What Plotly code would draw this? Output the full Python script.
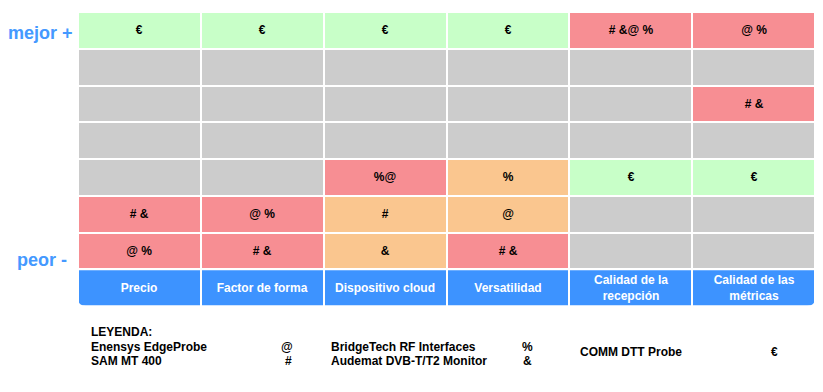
import plotly.graph_objects as go

# ---------------- data ----------------
criteria = ["Precio", "Factor de forma", "Dispositivo cloud", "Versatilidad",
            "Calidad de la<br>recepción", "Calidad de las<br>métricas"]

# rows from top ("mejor +") to bottom ("peor -")
cell_text = [
    ["€",    "€",    "€",   "€",   "# &@ %", "@ %"],
    ["",     "",     "",    "",    "",       ""],
    ["",     "",     "",    "",    "",       "# &"],
    ["",     "",     "",    "",    "",       ""],
    ["",     "",     "%@",  "%",   "€",      "€"],
    ["# &",  "@ %",  "#",   "@",   "",       ""],
    ["@ %",  "# &",  "&",   "# &", "",       ""],
]
# 0 = sin dato (gris), 1 = verde, 2 = rojo, 3 = naranja
cell_class = [
    [1, 1, 1, 1, 2, 2],
    [0, 0, 0, 0, 0, 0],
    [0, 0, 0, 0, 0, 2],
    [0, 0, 0, 0, 0, 0],
    [0, 0, 2, 3, 1, 1],
    [2, 2, 3, 3, 0, 0],
    [2, 2, 3, 2, 0, 0],
]

legend_names = ["Enensys EdgeProbe", "SAM MT 400", "BridgeTech RF Interfaces",
                "Audemat DVB-T/T2 Monitor", "COMM DTT Probe"]
legend_symbols = ["@", "#", "%", "&", "€"]

# ---------------- style ----------------
GREY = "#cccccc"
GREEN = "#c8ffc8"
RED = "#f78e93"
ORANGE = "#fac68f"
BLUE = "#3d93ff"
LABEL_BLUE = "#4499ff"

OFF = 8  # page body margin
W, H = 823 - OFF, 392 - OFF
L, R, T, B = 78 - OFF, 8, 12 - OFF, 86
PW, PH = W - L - R, H - T - B

ncols = len(criteria)
nrows = len(cell_class)

xs = list(range(ncols))
ys_rows = [nrows - i for i in range(nrows)]  # top row -> y=nrows

colorscale = [
    [0.0, GREY], [0.125, GREY],
    [0.125, GREEN], [0.375, GREEN],
    [0.375, RED], [0.625, RED],
    [0.625, ORANGE], [0.875, ORANGE],
    [0.875, BLUE], [1.0, BLUE],
]

fig = go.Figure()

fig.add_trace(go.Heatmap(
    x=xs, y=ys_rows, z=cell_class, text=cell_text,
    texttemplate="<b>%{text}</b>",
    textfont=dict(family="Liberation Sans, Arial", size=12, color="#000000"),
    colorscale=colorscale, zmin=0, zmax=4, showscale=False,
    xgap=2, ygap=2, hoverinfo="skip",
))

fig.add_trace(go.Heatmap(
    x=xs, y=[0], z=[[4] * ncols], text=[criteria],
    texttemplate="<b>%{text}</b>",
    textfont=dict(family="Liberation Sans, Arial", size=12, color="#ffffff"),
    colorscale=colorscale, zmin=0, zmax=4, showscale=False,
    xgap=2, ygap=2, hoverinfo="skip",
))

# rounded bottom corners (white masks)
rx = 8 / (PW / ncols)
ry = 8 / (PH / (nrows + 1))
x0, x1, y0 = -0.5, ncols - 0.5, -0.5
shapes = [
    dict(type="path", xref="x", yref="y", layer="above",
         path=f"M {x0-0.01},{y0+ry} L {x0},{y0+ry} Q {x0},{y0} {x0+rx},{y0} L {x0+rx},{y0-0.02} L {x0-0.01},{y0-0.02} Z",
         fillcolor="#ffffff", line=dict(width=0)),
    dict(type="path", xref="x", yref="y", layer="above",
         path=f"M {x1+0.01},{y0+ry} L {x1},{y0+ry} Q {x1},{y0} {x1-rx},{y0} L {x1-rx},{y0-0.02} L {x1+0.01},{y0-0.02} Z",
         fillcolor="#ffffff", line=dict(width=0)),
]


def px(xp):
    return (xp - OFF - L) / PW


def py(yp):
    return (H - B - (yp - OFF)) / PH


annotations = []
bold = dict(family="Liberation Sans, Arial", size=12, color="#000000")
annotations.append(dict(text="<b>mejor +</b>", x=px(40), y=py(33), xref="paper", yref="paper",
                        showarrow=False, xanchor="center", yanchor="middle",
                        font=dict(family="Liberation Sans, Arial", size=18, color=LABEL_BLUE)))
annotations.append(dict(text="<b>peor -</b>", x=px(42), y=py(260), xref="paper", yref="paper",
                        showarrow=False, xanchor="center", yanchor="middle",
                        font=dict(family="Liberation Sans, Arial", size=18, color=LABEL_BLUE)))

annotations.append(dict(text="<b>LEYENDA:</b>", x=px(89), y=py(332), xref="paper", yref="paper",
                        showarrow=False, xanchor="left", yanchor="middle", font=bold))

name_pos = [(89, 347), (89, 361), (329, 347), (329, 361), (578, 352)]
sym_pos = [(287, 347), (288, 361), (527, 347), (527, 361), (774, 352)]
for name, sym, (nx, ny), (sx, sy) in zip(legend_names, legend_symbols, name_pos, sym_pos):
    annotations.append(dict(text=f"<b>{name}</b>", x=px(nx), y=py(ny), xref="paper", yref="paper",
                            showarrow=False, xanchor="left", yanchor="middle", font=bold))
    annotations.append(dict(text=f"<b>{sym}</b>", x=px(sx), y=py(sy), xref="paper", yref="paper",
                            showarrow=False, xanchor="center", yanchor="middle", font=bold))

fig.update_layout(
    width=W, height=H,
    margin=dict(l=L, r=R, t=T, b=B),
    paper_bgcolor="#ffffff", plot_bgcolor="#ffffff",
    xaxis=dict(range=[-0.5, ncols - 0.5], visible=False, fixedrange=True),
    yaxis=dict(range=[-0.5, nrows + 0.5], visible=False, fixedrange=True),
    shapes=shapes, annotations=annotations, showlegend=False,
)

fig.write_html("out.html")
